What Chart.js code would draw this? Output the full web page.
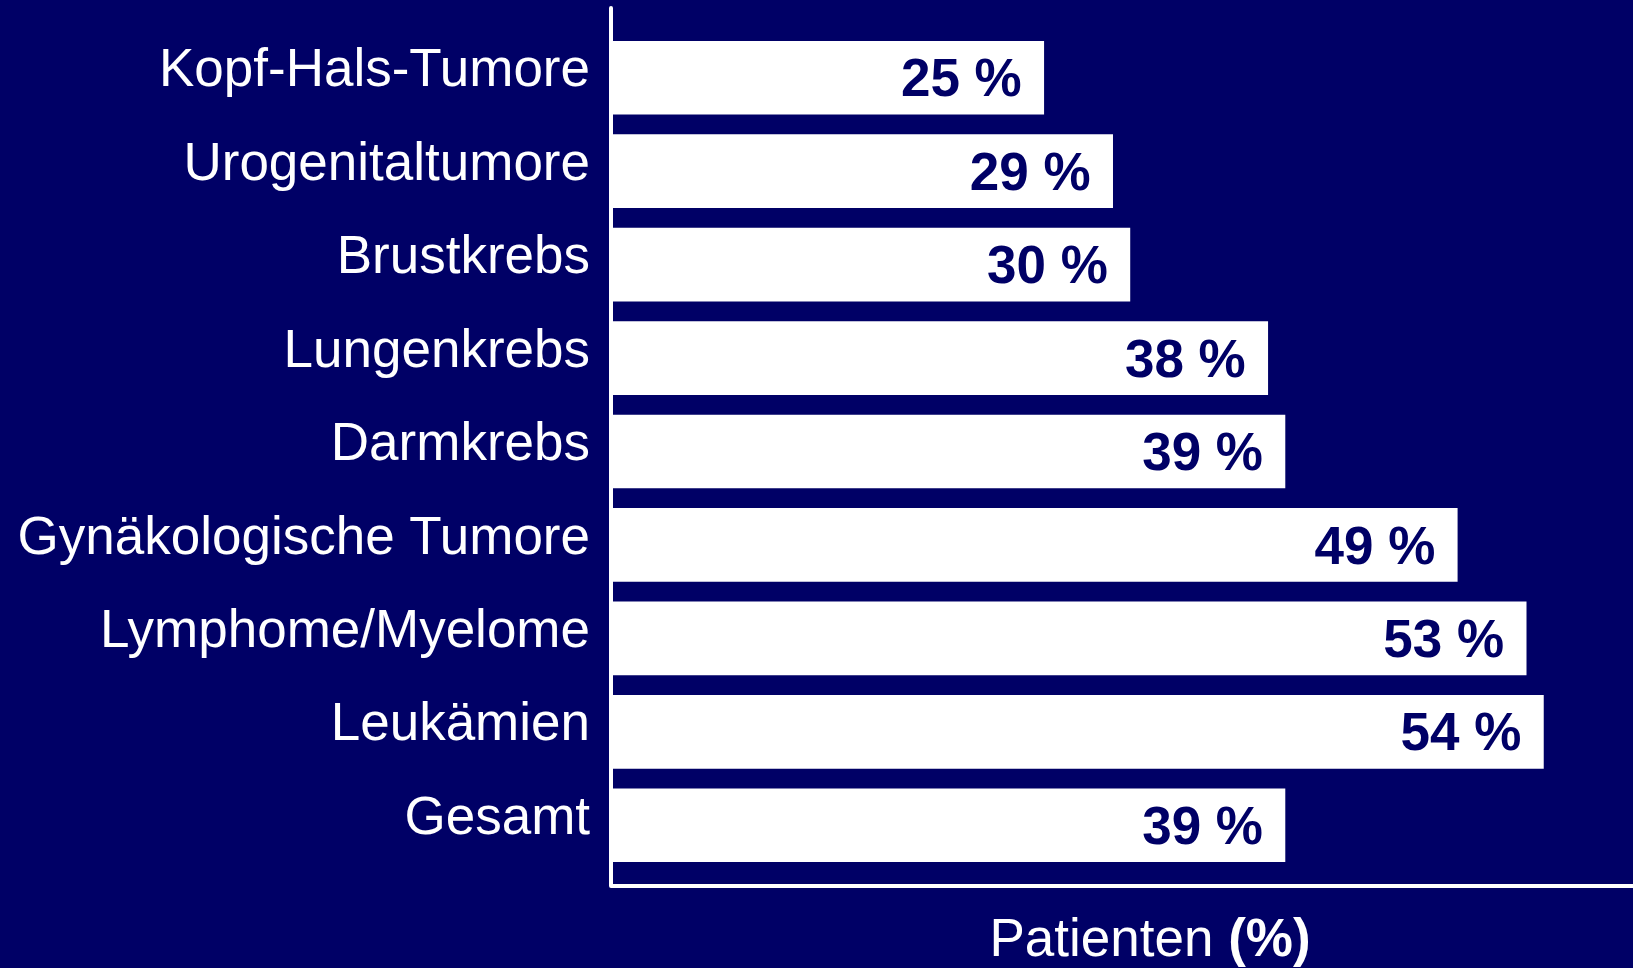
<!DOCTYPE html>
<html>
<head>
<meta charset="utf-8">
<script src="https://cdn.jsdelivr.net/npm/chart.js@4"></script>
<style>
  html, body { margin: 0; padding: 0; background: #000066; }
  #wrap { width: 1633px; height: 968px; position: relative; }
</style>
</head>
<body>
<div id="wrap"><canvas id="tumorChart"></canvas></div>
<script>
const categories = ['Kopf-Hals-Tumore', 'Urogenitaltumore', 'Brustkrebs', 'Lungenkrebs', 'Darmkrebs', 'Gynäkologische Tumore', 'Lymphome/Myelome', 'Leukämien', 'Gesamt'];
const patientPercent = [25, 29, 30, 38, 39, 49, 53, 54, 39];
const axisTitle = 'Patienten';
const axisUnit = '(%)';

const navy = '#000066';
const fontFamily = '"Liberation Sans", Arial, sans-serif';

// dark background behind everything
const background = {
  id: 'background',
  beforeDraw(chart) {
    const c = chart.ctx;
    c.save();
    c.fillStyle = navy;
    c.fillRect(0, 0, chart.width, chart.height);
    c.restore();
  }
};

// value labels inside the bar ends + L-shaped axis + axis title
const decorations = {
  id: 'decorations',
  afterDatasetsDraw(chart) {
    const c = chart.ctx;
    const area = chart.chartArea;
    c.save();

    c.font = 'bold 53px ' + fontFamily;
    c.fillStyle = navy;
    c.textAlign = 'right';
    c.textBaseline = 'middle';
    chart.getDatasetMeta(0).data.forEach((bar, i) => {
      c.fillText(patientPercent[i] + ' %', bar.x - 22, bar.y + 4);
    });

    const x0 = area.left - 2;
    const yTop = area.top - 23;
    const yBottom = area.bottom + 14;
    c.strokeStyle = '#ffffff';
    c.lineWidth = 4;
    c.lineCap = 'round';
    c.lineJoin = 'round';
    c.beginPath();
    c.moveTo(x0, yTop);
    c.lineTo(x0, yBottom);
    c.lineTo(chart.width + 4, yBottom);
    c.stroke();

    const regular = '53px ' + fontFamily;
    const bold = 'bold 53px ' + fontFamily;
    c.font = regular;
    const w1 = c.measureText(axisTitle + ' ').width;
    c.font = bold;
    const w2 = c.measureText(axisUnit).width;
    const left = (area.left + area.right) / 2 + 27 - (w1 + w2) / 2;
    const base = area.bottom + 84;
    c.fillStyle = '#ffffff';
    c.textAlign = 'left';
    c.textBaseline = 'alphabetic';
    c.font = regular;
    c.fillText(axisTitle + ' ', left, base);
    c.font = bold;
    c.fillText(axisUnit, left + w1, base);
    c.restore();
  }
};

const ctx = document.getElementById('tumorChart').getContext('2d');
new Chart(ctx, {
  type: 'bar',
  data: {
    labels: categories,
    datasets: [{
      data: patientPercent,
      backgroundColor: '#ffffff',
      borderWidth: 0,
      barThickness: 73
    }]
  },
  options: {
    indexAxis: 'y',
    responsive: true,
    maintainAspectRatio: false,
    animation: false,
    layout: { padding: { top: 31, bottom: 96, left: 0, right: 0 } },
    scales: {
      x: {
        display: false,
        min: 0,
        max: 59.2
      },
      y: {
        afterFit(scale) {
          scale.width = 613;
          scale.paddingTop = 0;
          scale.paddingBottom = 0;
        },
        grid: { display: false, drawTicks: false },
        border: { display: false },
        ticks: {
          color: '#ffffff',
          padding: 23,
          labelOffset: -6,
          font: { family: fontFamily, size: 53 }
        }
      }
    },
    plugins: {
      legend: { display: false },
      tooltip: { enabled: false }
    }
  },
  plugins: [background, decorations]
});
</script>
</body>
</html>
